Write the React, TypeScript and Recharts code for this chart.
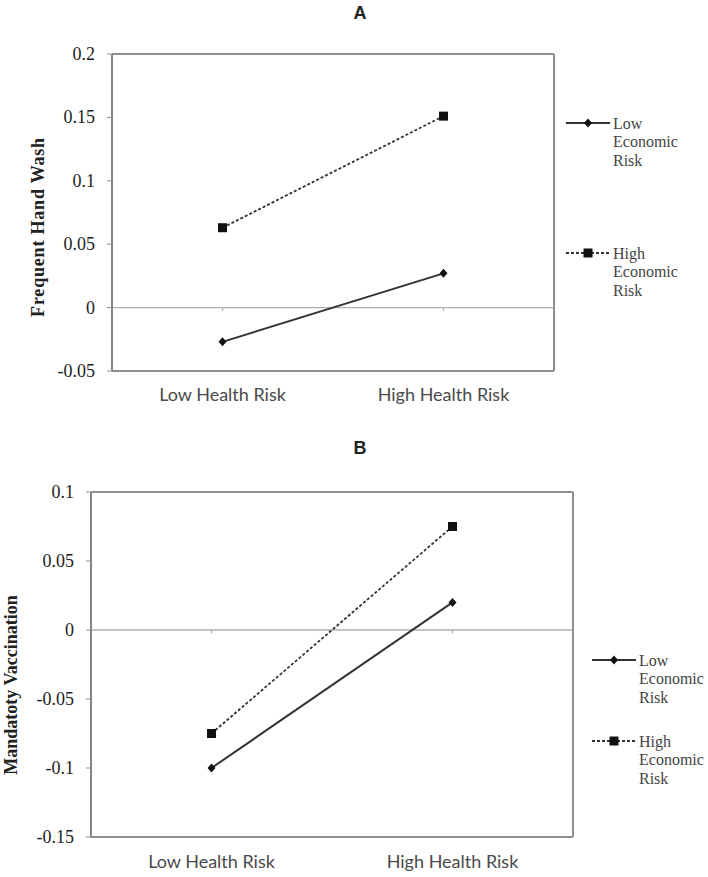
import React from 'react'
import { LineChart, Line, XAxis, YAxis, ReferenceLine } from 'recharts'

// categories and values
const healthRisk = ['Low Health Risk', 'High Health Risk']
const handWashLowEcon = [-0.027, 0.027]
const handWashHighEcon = [0.063, 0.151]
const vaccLowEcon = [-0.1, 0.02]
const vaccHighEcon = [-0.075, 0.075]
const handWashTicks = [-0.05, 0, 0.05, 0.1, 0.15, 0.2]
const vaccTicks = [-0.15, -0.1, -0.05, 0, 0.05, 0.1]
const seriesKeys = ['low', 'high']
const seriesLabels = [
  ['Low', 'Economic', 'Risk'],
  ['High', 'Economic', 'Risk']
]

const BORDER = '#8f8f8f'
const LINE = '#333333'

const DiamondDot = (props: any) => {
  const { cx, cy, index } = props
  if (cx == null || cy == null) return null
  return (
    <path
      key={`dia-${index}`}
      d={`M${cx},${cy - 4.5}L${cx + 4},${cy}L${cx},${cy + 4.5}L${cx - 4},${cy}Z`}
      fill="#111"
    />
  )
}

const SquareDot = (props: any) => {
  const { cx, cy, index } = props
  if (cx == null || cy == null) return null
  return <rect key={`sq-${index}`} x={cx - 4.5} y={cy - 4.5} width={9} height={9} fill="#111" />
}

function YTick(t: any) {
  return (
    <text
      x={t.x}
      y={t.y}
      textAnchor="end"
      dominantBaseline="central"
      fill="#222"
      fontFamily="Liberation Serif"
      fontSize={18}
    >
      {String(t.payload.value)}
    </text>
  )
}

function XTick(t: any) {
  return (
    <text
      x={t.x}
      y={t.y + (t.gap || 30)}
      textAnchor="middle"
      fill="#4a4a4a"
      fontFamily="Lato"
      fontSize={18}
    >
      {t.payload.value}
    </text>
  )
}

interface PanelProps {
  title: string
  yLabel: string
  low: number[]
  high: number[]
  ticks: number[]
  height: number
  plotTop: number
  plotBottom: number
  plotLeft: number
  plotRight: number
  xLabelGap: number
  titleY: number
  yLabelX: number
  yLabelY: number
  yLabelSpacing: number
  legendX: number
  legendY: number[]
  zeroTick: number
}

function Panel(p: PanelProps) {
  const data = healthRisk.map((cat, i) => ({ cat, low: p.low[i], high: p.high[i] }))
  const domain = [p.ticks[0], p.ticks[p.ticks.length - 1]]
  const width = 708

  const legendLine = (i: number) => {
    const y = p.legendY[i]
    const x1 = p.legendX
    const x2 = p.legendX + 44
    const mx = (x1 + x2) / 2
    return (
      <g key={seriesKeys[i]}>
        <line
          x1={x1}
          x2={x2}
          y1={y}
          y2={y}
          stroke={LINE}
          strokeWidth={2}
          strokeDasharray={i === 1 ? '3 2' : undefined}
        />
        {i === 0 ? (
          <path d={`M${mx},${y - 4.5}L${mx + 4},${y}L${mx},${y + 4.5}L${mx - 4},${y}Z`} fill="#111" />
        ) : (
          <rect x={mx - 4.5} y={y - 4.5} width={9} height={9} fill="#111" />
        )}
        {seriesLabels[i].map((s, k) => (
          <text
            key={s + k}
            x={x2 + 3}
            y={y + k * 18.5}
            dominantBaseline="central"
            fontFamily="Liberation Serif"
            fontSize={16}
            fill="#444"
          >
            {s}
          </text>
        ))}
      </g>
    )
  }

  return (
    <div style={{ position: 'relative', width, height: p.height }}>
      <LineChart
        width={width}
        height={p.height}
        data={data}
        margin={{ top: p.plotTop, right: width - p.plotRight - 1, left: 0, bottom: 0 }}
      >
        <XAxis
          xAxisId="b"
          dataKey="cat"
          scale="band"
          height={p.height - p.plotBottom}
          axisLine={{ stroke: BORDER, strokeWidth: 2 }}
          tickLine={false}
          tickSize={0}
          tickMargin={0}
          tick={<XTick gap={p.xLabelGap} />}
          interval={0}
        />
        <YAxis
          yAxisId="l"
          type="number"
          domain={domain}
          ticks={p.ticks}
          interval={0}
          allowDataOverflow
          width={p.plotLeft}
          axisLine={{ stroke: '#858585', strokeWidth: 2 }}
          tickLine={{ stroke: BORDER }}
          tickSize={5}
          tickMargin={12}
          tick={<YTick />}
        />
        <YAxis
          yAxisId="r"
          orientation="right"
          type="number"
          domain={domain}
          allowDataOverflow
          width={1}
          axisLine={{ stroke: BORDER, strokeWidth: 2 }}
          tickLine={false}
          tick={false}
        />
        <ReferenceLine
          xAxisId="b"
          yAxisId="l"
          y={domain[1]}
          stroke={BORDER}
          strokeWidth={2}
          ifOverflow="visible"
        />
        <ReferenceLine xAxisId="b" yAxisId="l" y={0} stroke="#b0b0b0" strokeWidth={1.3} />
        {healthRisk.map((cat) => (
          <ReferenceLine
            key={cat}
            xAxisId="b"
            yAxisId="l"
            segment={[
              { x: cat, y: 0 },
              { x: cat, y: -p.zeroTick }
            ]}
            stroke="#b0b0b0"
            strokeWidth={1.3}
          />
        ))}
        <Line
          xAxisId="b"
          yAxisId="l"
          dataKey="low"
          stroke={LINE}
          strokeWidth={2}
          dot={DiamondDot}
          activeDot={false}
          isAnimationActive={false}
        />
        <Line
          xAxisId="b"
          yAxisId="l"
          dataKey="high"
          stroke={LINE}
          strokeWidth={1.8}
          strokeDasharray="3 2"
          dot={SquareDot}
          activeDot={false}
          isAnimationActive={false}
        />
      </LineChart>
      <svg
        width={width}
        height={p.height}
        style={{ position: 'absolute', left: 0, top: 0, pointerEvents: 'none' }}
      >
        <text
          x={360}
          y={p.titleY}
          textAnchor="middle"
          fontFamily="Liberation Sans"
          fontWeight="bold"
          fontSize={18}
          fill="#222"
        >
          {p.title}
        </text>
        <text
          transform={`translate(${p.yLabelX},${p.yLabelY}) rotate(-90)`}
          textAnchor="middle"
          dominantBaseline="central"
          fontFamily="Liberation Serif"
          fontWeight="bold"
          fontSize={18}
          letterSpacing={p.yLabelSpacing}
          fill="#222"
        >
          {p.yLabel}
        </text>
        {seriesKeys.map((_, i) => legendLine(i))}
      </svg>
    </div>
  )
}

export default function App() {
  return (
    <div style={{ position: 'absolute', left: 0, top: 0, width: 708, height: 877, background: '#fff' }}>
      <Panel
        title="A"
        yLabel="Frequent Hand Wash"
        low={handWashLowEcon}
        high={handWashHighEcon}
        ticks={handWashTicks}
        height={420}
        plotTop={54}
        plotBottom={371}
        plotLeft={112}
        plotRight={554}
        xLabelGap={30}
        titleY={19}
        yLabelX={38}
        yLabelY={227}
        yLabelSpacing={0.8}
        legendX={566}
        legendY={[123, 253]}
        zeroTick={0.0025}
      />
      <Panel
        title="B"
        yLabel="Mandatoty Vaccination"
        low={vaccLowEcon}
        high={vaccHighEcon}
        ticks={vaccTicks}
        height={457}
        plotTop={72}
        plotBottom={417}
        plotLeft={91}
        plotRight={573}
        xLabelGap={31}
        titleY={34}
        yLabelX={11}
        yLabelY={265}
        yLabelSpacing={0}
        legendX={592}
        legendY={[240, 321]}
        zeroTick={0.0025}
      />
    </div>
  )
}
